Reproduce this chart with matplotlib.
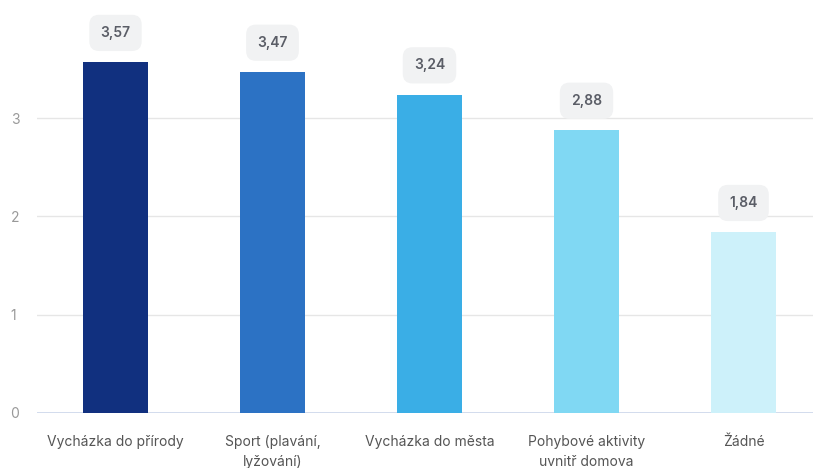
import matplotlib
matplotlib.use("Agg")
import matplotlib.pyplot as plt

plt.rcParams['font.family'] = ['Inter', 'DejaVu Sans']

categories = ["Vycházka do přírody", "Sport (plavání,\nlyžování)", "Vycházka do města",
              "Pohybové aktivity\nuvnitř domova", "Žádné"]
values = [3.57, 3.47, 3.24, 2.88, 1.84]
labels = ["3,57", "3,47", "3,24", "2,88", "1,84"]
colors = ["#11307f", "#2c72c4", "#3aaee6", "#80d8f3", "#cdf1fa"]

fig = plt.figure(figsize=(8.13, 4.68), dpi=100)
ax = fig.add_axes([37 / 813, 55 / 468, 776 / 813, 413 / 468])

x = list(range(len(values)))
ax.bar(x, values, width=65 / 157, color=colors, zorder=3)

for xi, v, lab in zip(x, values, labels):
    ax.annotate(lab, (xi, v), xytext=(0, 21), textcoords="offset points",
                ha="center", va="center", fontsize=10, fontweight="semibold",
                color="#5a5d66", zorder=4,
                bbox=dict(boxstyle="round,pad=0.8,rounding_size=0.7",
                          fc="#f1f2f3", ec="none"))

ax.set_xlim(-0.5, -0.5 + 776 / 157)
ax.set_ylim(0, 413 / 98.3)
ax.set_yticks([0, 1, 2, 3])
ax.set_yticklabels(["0", "1", "2", "3"])
ax.set_xticks(x)
ax.set_xticklabels(categories, fontsize=10, color="#555555", linespacing=1.5)

ax.grid(axis="y", color="#e6e6e6", linewidth=1, zorder=0)
ax.axhline(0, color="#ccd6eb", linewidth=1.2, zorder=2)
for s in ax.spines.values():
    s.set_visible(False)
ax.tick_params(axis="x", length=0, pad=16)
ax.tick_params(axis="y", length=0, labelsize=10, labelcolor="#999999")
for t in ax.get_yticklabels():
    t.set_horizontalalignment("left")
ax.yaxis.set_tick_params(pad=19)

fig.savefig("out.png", dpi=100)
